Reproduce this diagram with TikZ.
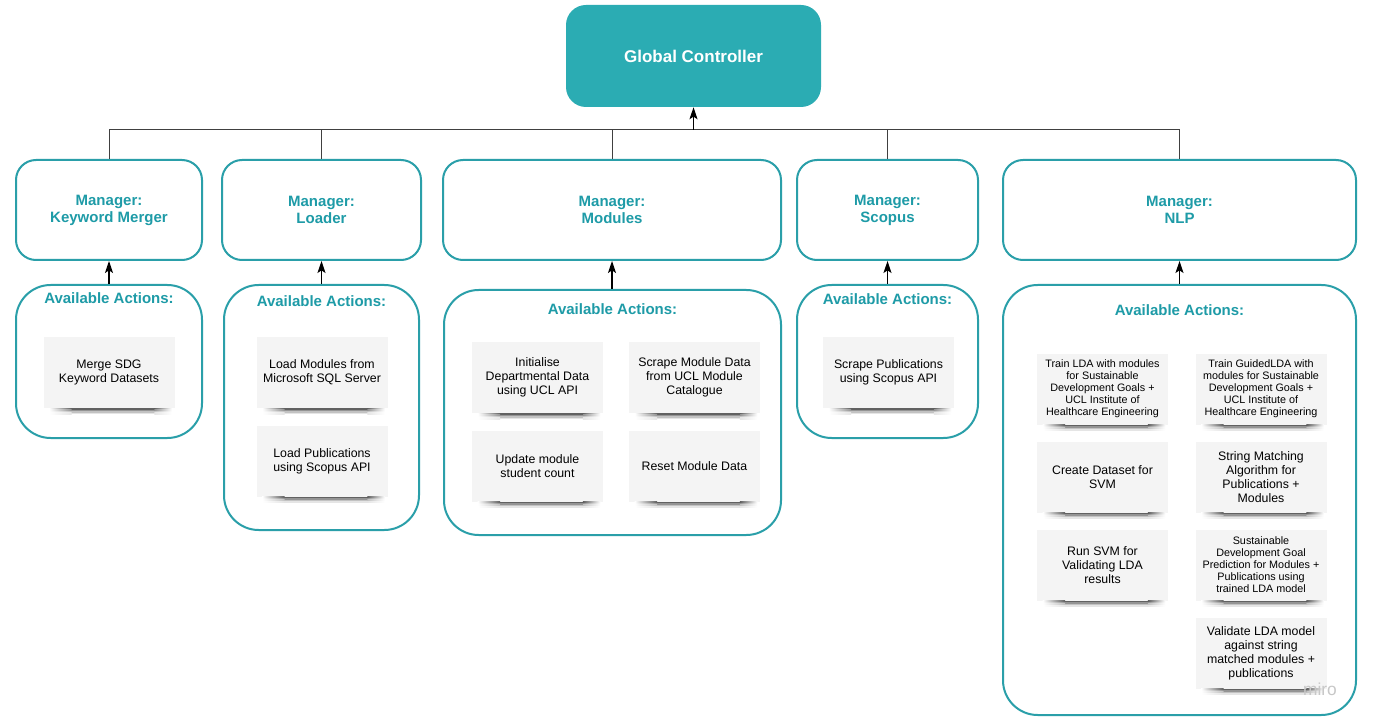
\documentclass[tikz,border=0pt]{standalone}
\usepackage{fontspec}
\setmainfont{Liberation Sans}
\usetikzlibrary{arrows.meta,calc}
\definecolor{tealfill}{HTML}{2BACB3}
\definecolor{tealtx}{HTML}{1E9BA7}
\definecolor{tealbd}{HTML}{2A9FA9}
\definecolor{notefill}{HTML}{F4F4F4}
\newcommand\nshadow[1]{%
  \foreach \da/\db/\sc in {0/1.5/62,1.5/3/42,3/4.5/24,4.5/6/10} {%
    \fill[black!\sc] ($(#1.south west)+(28,\da)$) rectangle ($(#1.south east)+(-20,\db)$);
    \shade[left color=white, right color=black!\sc] ($(#1.south west)+(6,\da)$) rectangle ($(#1.south west)+(28.3,\db)$);
    \shade[left color=black!\sc, right color=white] ($(#1.south east)+(-20.3,\da)$) rectangle ($(#1.south east)+(-3,\db)$);
  }}
\begin{document}
\begin{tikzpicture}[x=0.75pt,y=-0.75pt,
  gcbox/.style={rectangle, rounded corners=15pt, fill=tealfill, text=white,
    font=\fontsize{12.75}{15}\selectfont\bfseries, minimum width=191.25pt, minimum height=76.5pt},
  mgr/.style={rectangle, rounded corners=15pt, draw=tealbd, line width=1.5pt, fill=white,
    text=tealtx, font=\fontsize{11.25}{12.75}\selectfont\bfseries, align=center, minimum height=75pt},
  actbox/.style={rectangle, rounded corners=26pt, draw=tealbd, line width=1.5pt, fill=white},
  acttitle/.style={text=tealtx, font=\fontsize{11.25}{12.75}\selectfont\bfseries, inner sep=0pt},
  note/.style={rectangle, fill=notefill, align=center, minimum width=98.25pt, minimum height=53.25pt,
    inner sep=1pt, font=\fontsize{9.25}{10.5}\selectfont},
  notesm/.style={note, font=\fontsize{8.1}{9}\selectfont},
  conn/.style={draw=black!75, line width=0.75pt},
  arr/.style={draw=black, line width=0.9pt, -{Stealth[length=9pt,width=6pt,inset=2pt]}},
]
\useasboundingbox (0,0) rectangle (1374,727);
\fill[white] (0,0) rectangle (1374,727);

% Global controller
\node[gcbox] (gc) at (693.5,56) {Global Controller};

% Managers
\node[mgr, minimum width=139.5pt]  (m1) at (109,210)    {Manager:\\Keyword Merger};
\node[mgr, minimum width=149.25pt] (m2) at (321.5,210)  {Manager:\\Loader};
\node[mgr, minimum width=253.5pt]  (m3) at (612,210)    {Manager:\\Modules};
\node[mgr, minimum width=135.75pt] (m4) at (887.5,210)  {Manager:\\Scopus};
\node[mgr, minimum width=264.75pt] (m5) at (1179.5,210) {Manager:\\NLP};

% Bus to controller
\coordinate (bj) at (693.5,130);
\draw[conn] (m1.north) |- (bj);
\draw[conn] (m2.north) |- (bj);
\draw[conn] (m3.north) |- (bj);
\draw[conn] (m4.north) |- (bj);
\draw[conn] (m5.north) |- (bj);
\draw[arr] (bj) -- (gc.south);

% Action boxes
\node[actbox, minimum width=139.5pt,  minimum height=114.75pt] (a1) at (109,361.5) {};
\node[actbox, minimum width=146.25pt, minimum height=183.75pt] (a2) at (321.5,407.5) {};
\node[actbox, minimum width=252.75pt, minimum height=183.75pt] (a3) at (612.5,412.5) {};
\node[actbox, minimum width=135.75pt, minimum height=114.75pt] (a4) at (887.5,361.5) {};
\node[actbox, minimum width=264.75pt, minimum height=322.5pt]  (a5) at (1179.5,500) {};

\node[acttitle] (t1) at (109,298)    {Available Actions:};
\node[acttitle] (t2) at (321.5,301)  {Available Actions:};
\node[acttitle] (t3) at (612.5,309)  {Available Actions:};
\node[acttitle] (t4) at (887.5,299)  {Available Actions:};
\node[acttitle] (t5) at (1179.5,310) {Available Actions:};

\draw[arr] (m1.south |- a1.north) -- (m1.south);
\draw[arr] (m2.south |- a2.north) -- (m2.south);
\draw[arr] (m3.south |- a3.north) -- (m3.south);
\draw[arr] (m4.south |- a4.north) -- (m4.south);
\draw[arr] (m5.south |- a5.north) -- (m5.south);

% Notes
\node[note] (n1) at (109,372.5) {Merge SDG\\Keyword Datasets};
\node[note] (n2) at (322,372.5) {Load Modules from\\Microsoft SQL Server};
\node[note] (n3) at (322,461)   {Load Publications\\using Scopus API};
\node[note] (n4) at (537.5,377.5) {Initialise\\Departmental Data\\using UCL API};
\node[note] (n5) at (694.5,377.5) {Scrape Module Data\\from UCL Module\\Catalogue};
\node[note] (n6) at (537.5,466)   {Update module\\student count};
\node[note] (n7) at (694.5,466)   {Reset Module Data};
\node[note] (n8) at (888.5,372.5) {Scrape Publications\\using Scopus API};
\node[notesm] (n9)  at (1102.5,389) {Train LDA with modules\\for Sustainable\\Development Goals +\\UCL Institute of\\Healthcare Engineering};
\node[notesm] (n10) at (1261,389)   {Train GuidedLDA with\\modules for Sustainable\\Development Goals +\\UCL Institute of\\Healthcare Engineering};
\node[note]   (n11) at (1102.5,477) {Create Dataset for\\SVM};
\node[note]   (n12) at (1261,477)   {String Matching\\Algorithm for\\Publications +\\Modules};
\node[note]   (n13) at (1102.5,565) {Run SVM for\\Validating LDA\\results};
\node[notesm] (n14) at (1261,565)   {Sustainable\\Development Goal\\Prediction for Modules +\\Publications using\\trained LDA model};
\node[note]   (n15) at (1261,653)   {Validate LDA model\\against string\\matched modules +\\publications};

\foreach \nn in {n1,n2,n3,n4,n5,n6,n7,n8,n9,n10,n11,n12,n13,n14,n15} {\nshadow{\nn}}

% watermark
\node[text=black!22, font=\fontsize{13}{13}\selectfont] (miro) at (1320,689) {miro};
\end{tikzpicture}
\end{document}
